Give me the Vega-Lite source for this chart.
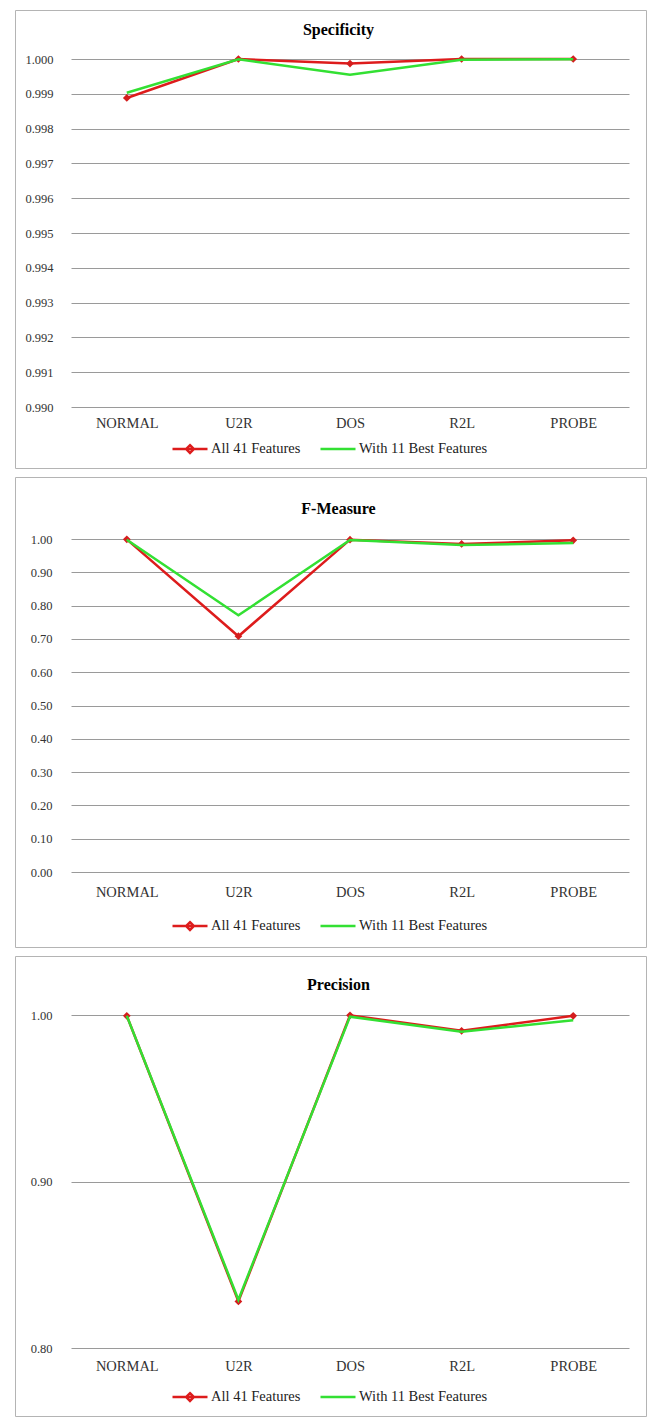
{
  "$schema": "https://vega.github.io/schema/vega-lite/v6.json",
  "padding": {"left": 14, "top": 9, "right": 0, "bottom": 0},
  "background": "white",
  "spacing": 7,
  "config": {
    "view": {"stroke": "#b4b4b4", "strokeWidth": 1},
    "font": "Liberation Serif",
    "axis": {"labelFont": "Liberation Serif", "labelColor": "#333333"},
    "axisX": {"labelFontSize": 14.5},
    "axisY": {"labelFontSize": 12.5},
    "legend": {"labelFont": "Liberation Serif", "labelFontSize": 14.5, "labelColor": "#222222"},
    "title": {"font": "Liberation Serif", "fontSize": 16, "fontWeight": "bold", "color": "#000000"}
  },
  "data": {
    "values": [
      {"metric": "Specificity", "series": "All 41 Features", "category": "NORMAL", "value": 0.99888},
      {"metric": "Specificity", "series": "All 41 Features", "category": "U2R", "value": 1.0},
      {"metric": "Specificity", "series": "All 41 Features", "category": "DOS", "value": 0.99987},
      {"metric": "Specificity", "series": "All 41 Features", "category": "R2L", "value": 1.0},
      {"metric": "Specificity", "series": "All 41 Features", "category": "PROBE", "value": 1.0},
      {"metric": "Specificity", "series": "With 11 Best Features", "category": "NORMAL", "value": 0.99903},
      {"metric": "Specificity", "series": "With 11 Best Features", "category": "U2R", "value": 0.99999},
      {"metric": "Specificity", "series": "With 11 Best Features", "category": "DOS", "value": 0.99955},
      {"metric": "Specificity", "series": "With 11 Best Features", "category": "R2L", "value": 0.99998},
      {"metric": "Specificity", "series": "With 11 Best Features", "category": "PROBE", "value": 0.99999},
      {"metric": "F-Measure", "series": "All 41 Features", "category": "NORMAL", "value": 0.999},
      {"metric": "F-Measure", "series": "All 41 Features", "category": "U2R", "value": 0.708},
      {"metric": "F-Measure", "series": "All 41 Features", "category": "DOS", "value": 0.998},
      {"metric": "F-Measure", "series": "All 41 Features", "category": "R2L", "value": 0.985},
      {"metric": "F-Measure", "series": "All 41 Features", "category": "PROBE", "value": 0.996},
      {"metric": "F-Measure", "series": "With 11 Best Features", "category": "NORMAL", "value": 0.998},
      {"metric": "F-Measure", "series": "With 11 Best Features", "category": "U2R", "value": 0.771},
      {"metric": "F-Measure", "series": "With 11 Best Features", "category": "DOS", "value": 0.997},
      {"metric": "F-Measure", "series": "With 11 Best Features", "category": "R2L", "value": 0.982},
      {"metric": "F-Measure", "series": "With 11 Best Features", "category": "PROBE", "value": 0.988},
      {"metric": "Precision", "series": "All 41 Features", "category": "NORMAL", "value": 0.9995},
      {"metric": "Precision", "series": "All 41 Features", "category": "U2R", "value": 0.828},
      {"metric": "Precision", "series": "All 41 Features", "category": "DOS", "value": 0.9998},
      {"metric": "Precision", "series": "All 41 Features", "category": "R2L", "value": 0.9905},
      {"metric": "Precision", "series": "All 41 Features", "category": "PROBE", "value": 0.9995},
      {"metric": "Precision", "series": "With 11 Best Features", "category": "NORMAL", "value": 0.9995},
      {"metric": "Precision", "series": "With 11 Best Features", "category": "U2R", "value": 0.829},
      {"metric": "Precision", "series": "With 11 Best Features", "category": "DOS", "value": 0.999},
      {"metric": "Precision", "series": "With 11 Best Features", "category": "R2L", "value": 0.990},
      {"metric": "Precision", "series": "With 11 Best Features", "category": "PROBE", "value": 0.9968}
    ]
  },
  "resolve": {"scale": {"color": "independent", "x": "independent", "y": "independent"}, "legend": {"color": "independent"}},
  "vconcat": [
    {
      "width": 631, "height": 458,
      "title": {"text": "Specificity", "offset": -36, "baseline": "middle", "dx": 8},
      "transform": [{"filter": "datum.metric === 'Specificity'"}],
      "encoding": {
        "x": {"field": "category", "type": "ordinal", "sort": ["NORMAL", "U2R", "DOS", "R2L", "PROBE"],
              "scale": {"type": "point", "range": [56, 614], "padding": 0.5},
              "axis": {"title": null, "domain": false, "ticks": false, "grid": false, "labelAngle": 0, "offset": -54, "labelPadding": 2, "labelFont": "Liberation Serif"}},
        "y": {"field": "value", "type": "quantitative",
              "scale": {"domain": [0.99, 1.0], "range": [397, 49], "nice": false, "zero": false},
              "axis": {"title": null, "domain": false, "ticks": false, "offset": -41, "labelPadding": 3, "labelFont": "Liberation Serif", "grid": true, "gridColor": "#9a9a9a", "gridWidth": 1, "format": ".3f",
                       "values": [0.99, 0.991, 0.992, 0.993, 0.994, 0.995, 0.996, 0.997, 0.998, 0.999, 1.0]}}
      },
      "layer": [
        {"transform": [{"filter": "datum.series === 'All 41 Features'"}],
         "mark": {"type": "line", "strokeWidth": 2.5},
         "encoding": {"color": {"field": "series", "type": "nominal",
            "scale": {"domain": ["All 41 Features", "With 11 Best Features"], "range": ["#dd1c1c", "#33e033"]},
            "legend": {"orient": "none", "legendX": 156, "legendY": 420, "direction": "horizontal", "title": null, "padding": 0,
                       "labelFont": "Liberation Serif", "labelFontSize": 14.5,
                       "symbolType": "stroke", "symbolSize": 1225, "symbolStrokeWidth": 2.5, "columnPadding": 14, "labelOffset": 2,
                       "encode": {"labels": {"update": {"font": {"value": "Liberation Serif"}}},
                                  "symbols": {"update": {"shape": {"signal": "datum.value === 'All 41 Features' ? 'M-1,0H1M0,-0.22L0.22,0L0,0.22L-0.22,0Z' : 'M-1,0H1M0,-0.22M0,0.22'"}}}}}}}},
        {"transform": [{"filter": "datum.series === 'All 41 Features'"}],
         "mark": {"type": "point", "shape": "diamond", "filled": true, "size": 60, "color": "#d41e1e", "opacity": 1}},
        {"transform": [{"filter": "datum.series === 'With 11 Best Features'"}],
         "mark": {"type": "line", "strokeWidth": 2.5},
         "encoding": {"color": {"field": "series", "type": "nominal",
            "scale": {"domain": ["All 41 Features", "With 11 Best Features"], "range": ["#dd1c1c", "#33e033"]}}}}
      ]
    },
    {
      "width": 631, "height": 470,
      "title": {"text": "F-Measure", "offset": -48, "baseline": "middle", "dx": 8},
      "transform": [{"filter": "datum.metric === 'F-Measure'"}],
      "encoding": {
        "x": {"field": "category", "type": "ordinal", "sort": ["NORMAL", "U2R", "DOS", "R2L", "PROBE"],
              "scale": {"type": "point", "range": [56, 614], "padding": 0.5},
              "axis": {"title": null, "domain": false, "ticks": false, "grid": false, "labelAngle": 0, "offset": -64, "labelPadding": 2, "labelFont": "Liberation Serif"}},
        "y": {"field": "value", "type": "quantitative",
              "scale": {"domain": [0, 1.0], "range": [395, 62], "nice": false, "zero": false},
              "axis": {"title": null, "domain": false, "ticks": false, "offset": -40, "labelPadding": 3, "labelFont": "Liberation Serif", "grid": true, "gridColor": "#9a9a9a", "gridWidth": 1, "format": ".2f",
                       "values": [0, 0.1, 0.2, 0.3, 0.4, 0.5, 0.6, 0.7, 0.8, 0.9, 1.0]}}
      },
      "layer": [
        {"transform": [{"filter": "datum.series === 'All 41 Features'"}],
         "mark": {"type": "line", "strokeWidth": 2.5},
         "encoding": {"color": {"field": "series", "type": "nominal",
            "scale": {"domain": ["All 41 Features", "With 11 Best Features"], "range": ["#dd1c1c", "#33e033"]},
            "legend": {"orient": "none", "legendX": 156, "legendY": 430, "direction": "horizontal", "title": null, "padding": 0,
                       "labelFont": "Liberation Serif", "labelFontSize": 14.5,
                       "symbolType": "stroke", "symbolSize": 1225, "symbolStrokeWidth": 2.5, "columnPadding": 14, "labelOffset": 2,
                       "encode": {"labels": {"update": {"font": {"value": "Liberation Serif"}}},
                                  "symbols": {"update": {"shape": {"signal": "datum.value === 'All 41 Features' ? 'M-1,0H1M0,-0.22L0.22,0L0,0.22L-0.22,0Z' : 'M-1,0H1M0,-0.22M0,0.22'"}}}}}}}},
        {"transform": [{"filter": "datum.series === 'All 41 Features'"}],
         "mark": {"type": "point", "shape": "diamond", "filled": true, "size": 60, "color": "#d41e1e", "opacity": 1}},
        {"transform": [{"filter": "datum.series === 'With 11 Best Features'"}],
         "mark": {"type": "line", "strokeWidth": 2.5},
         "encoding": {"color": {"field": "series", "type": "nominal",
            "scale": {"domain": ["All 41 Features", "With 11 Best Features"], "range": ["#dd1c1c", "#33e033"]}}}}
      ]
    },
    {
      "width": 631, "height": 460,
      "title": {"text": "Precision", "offset": -45, "baseline": "middle", "dx": 8},
      "transform": [{"filter": "datum.metric === 'Precision'"}],
      "encoding": {
        "x": {"field": "category", "type": "ordinal", "sort": ["NORMAL", "U2R", "DOS", "R2L", "PROBE"],
              "scale": {"type": "point", "range": [56, 614], "padding": 0.5},
              "axis": {"title": null, "domain": false, "ticks": false, "grid": false, "labelAngle": 0, "offset": -60, "labelPadding": 3, "labelFont": "Liberation Serif"}},
        "y": {"field": "value", "type": "quantitative",
              "scale": {"domain": [0.8, 1.0], "range": [392, 59], "nice": false, "zero": false},
              "axis": {"title": null, "domain": false, "ticks": false, "offset": -40, "labelPadding": 3, "labelFont": "Liberation Serif", "grid": true, "gridColor": "#9a9a9a", "gridWidth": 1, "format": ".2f",
                       "values": [0.8, 0.9, 1.0]}}
      },
      "layer": [
        {"transform": [{"filter": "datum.series === 'All 41 Features'"}],
         "mark": {"type": "line", "strokeWidth": 2.5},
         "encoding": {"color": {"field": "series", "type": "nominal",
            "scale": {"domain": ["All 41 Features", "With 11 Best Features"], "range": ["#dd1c1c", "#33e033"]},
            "legend": {"orient": "none", "legendX": 156, "legendY": 422, "direction": "horizontal", "title": null, "padding": 0,
                       "labelFont": "Liberation Serif", "labelFontSize": 14.5,
                       "symbolType": "stroke", "symbolSize": 1225, "symbolStrokeWidth": 2.5, "columnPadding": 14, "labelOffset": 2,
                       "encode": {"labels": {"update": {"font": {"value": "Liberation Serif"}}},
                                  "symbols": {"update": {"shape": {"signal": "datum.value === 'All 41 Features' ? 'M-1,0H1M0,-0.22L0.22,0L0,0.22L-0.22,0Z' : 'M-1,0H1M0,-0.22M0,0.22'"}}}}}}}},
        {"transform": [{"filter": "datum.series === 'All 41 Features'"}],
         "mark": {"type": "point", "shape": "diamond", "filled": true, "size": 60, "color": "#d41e1e", "opacity": 1}},
        {"transform": [{"filter": "datum.series === 'With 11 Best Features'"}],
         "mark": {"type": "line", "strokeWidth": 2.5},
         "encoding": {"color": {"field": "series", "type": "nominal",
            "scale": {"domain": ["All 41 Features", "With 11 Best Features"], "range": ["#dd1c1c", "#33e033"]}}}}
      ]
    }
  ]
}
